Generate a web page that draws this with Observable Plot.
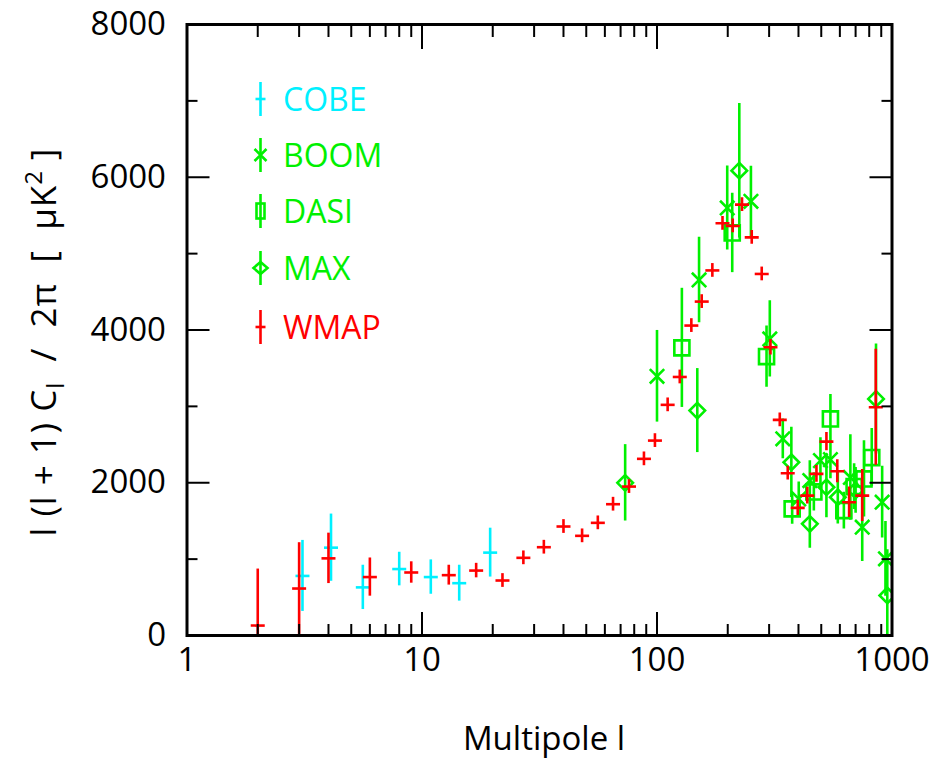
<!DOCTYPE html>
<html><head><meta charset="utf-8">
<script src="https://cdn.jsdelivr.net/npm/d3@7"></script>
<script src="https://cdn.jsdelivr.net/npm/@observablehq/plot@0.6"></script>
<style>
body{margin:0;background:#fff;}
#chart{position:relative;width:933px;height:762px;}
svg{font-family:"Open Sans",sans-serif;}
</style></head><body><div id="chart"></div>
<script>
// ---- data (multipole l, l(l+1)Cl/2pi in uK^2, error) ----
const cobeL = [3.1, 4.1, 5.6, 8.0, 10.9, 14.4, 19.5];
const cobeV = [780, 1150, 630, 870, 765, 685, 1085];
const cobeE = [465, 440, 290, 220, 225, 235, 320];

const boomL = [100, 151, 199, 251, 302, 343, 401, 447, 496, 547, 665, 747, 908, 938];
const boomV = [3394, 4655, 5598, 5685, 3883, 2575, 1789, 2029, 2290, 2303, 2070, 1418, 1745, 1004];
const boomE = [600, 560, 550, 460, 500, 260, 220, 260, 300, 250, 560, 450, 470, 490];

const dasiL = [127.6, 209, 292.5, 376, 465, 547, 624, 690, 760, 820];
const dasiV = [3766, 5271, 3652, 1658, 1880, 2836, 1636, 1950, 2050, 2330];
const dasiE = [780, 520, 400, 200, 250, 320, 240, 300, 500, 380];

const maxL = [73.2, 148.4, 224, 373, 447, 526, 588, 700, 855, 955];
const maxV = [1999, 2945, 6086, 2268, 1462, 1941, 1810, 1900, 3098, 524];
const maxE = [500, 550, 880, 460, 320, 400, 350, 300, 720, 600];

const wmapL = [2, 3, 4, 6, 9, 13, 17, 22, 27, 33, 40, 48, 56, 65, 76, 88, 98, 111, 125, 140, 155, 172, 190, 210, 230, 253, 279, 304, 333, 360, 397, 436, 477, 526, 585, 657, 747, 853];
const wmapV = [130, 615, 1010, 765, 825, 790, 850, 720, 1017, 1156, 1427, 1305, 1475, 1719, 1950, 2313, 2552, 3020, 3385, 4058, 4372, 4780, 5397, 5362, 5641, 5213, 4734, 3774, 2823, 2125, 1671, 1832, 2116, 2539, 2150, 1745, 1832, 2988];
const wmapE = [740, 600, 330, 250, 140, 130, 95, 90, 90, 90, 90, 90, 90, 90, 90, 90, 90, 90, 90, 90, 90, 90, 90, 90, 90, 90, 90, 100, 90, 90, 100, 110, 110, 120, 150, 200, 340, 760];

const xMajor = [1, 10, 100, 1000];
const xMinor = [2, 3, 4, 5, 6, 7, 8, 9, 20, 30, 40, 50, 60, 70, 80, 90, 200, 300, 400, 500, 600, 700, 800, 900];
const yMajor = [0, 2000, 4000, 6000, 8000];
const yMinor = [1000, 3000, 5000, 7000];

const legendNames = ["COBE", "BOOM", "DASI", "MAX", "WMAP"];
const CYAN = "#00f0ff", GREEN = "#00f000", RED = "#ff0000";
const legendColors = [CYAN, GREEN, GREEN, GREEN, RED];

const rows = (L, V, E) => L.map((l, i) => ({l, v: V[i], e: E[i]}));
const hbar = {draw(ctx, size) { const h = Math.sqrt(size / Math.PI); ctx.moveTo(-h, 0); ctx.lineTo(h, 0); }};

function series(L, V, E, color, symbol, r) {
  const data = rows(L, V, E);
  return [
    Plot.ruleX(data, {x: "l", y1: d => d.v - d.e, y2: d => d.v + d.e, stroke: color, strokeWidth: 2.6, clip: true}),
    Plot.dot(data, {x: "l", y: "v", symbol, r, stroke: color, fill: "none", strokeWidth: 2.6, clip: true})
  ];
}

const blank = () => "";
const chart = Plot.plot({
  width: 933, height: 762,
  marginLeft: 186.5, marginRight: 41.5, marginTop: 24, marginBottom: 127,
  x: {type: "log", domain: [1, 1000]},
  y: {domain: [0, 8000]},
  style: {fontFamily: "Open Sans, sans-serif", background: "white", color: "black"},
  marks: [
    ...series(cobeL, cobeV, cobeE, CYAN, hbar, 7),
    ...series(boomL, boomV, boomE, GREEN, "times", 6.6),
    ...series(dasiL, dasiV, dasiE, GREEN, "square2", 9.6),
    ...series(maxL, maxV, maxE, GREEN, "diamond2", 7),
    ...series(wmapL, wmapV, wmapE, RED, hbar, 7),
    // inward ticks
    Plot.axisX(xMinor, {anchor: "bottom", tickSize: -11, tickFormat: blank, strokeWidth: 2, label: null}),
    Plot.axisX(xMajor, {anchor: "bottom", tickSize: -23, tickFormat: blank, strokeWidth: 2, label: null}),
    Plot.axisX(xMinor, {anchor: "top", tickSize: -12, tickFormat: blank, strokeWidth: 2, label: null}),
    Plot.axisX(xMajor, {anchor: "top", tickSize: -24, tickFormat: blank, strokeWidth: 2, label: null}),
    Plot.axisY(yMinor, {anchor: "left", tickSize: -11, tickFormat: blank, strokeWidth: 2, label: null}),
    Plot.axisY(yMajor, {anchor: "left", tickSize: -23, tickFormat: blank, strokeWidth: 2, label: null}),
    Plot.axisY(yMinor, {anchor: "right", tickSize: -11, tickFormat: blank, strokeWidth: 2, label: null}),
    Plot.axisY(yMajor, {anchor: "right", tickSize: -23, tickFormat: blank, strokeWidth: 2, label: null}),
    // tick labels
    Plot.axisX(xMajor, {anchor: "bottom", tickSize: 0, tickPadding: 12, fontSize: 33, tickFormat: d => String(d), label: null}),
    Plot.axisY(yMajor, {anchor: "left", tickSize: 0, tickPadding: 21, fontSize: 33, tickFormat: d => String(d), label: null}),
    Plot.frame({stroke: "black", strokeWidth: 3})
  ]
});
document.getElementById("chart").appendChild(chart);

const svg = d3.select(chart);
// x label
svg.append("text").attr("x", 544).attr("y", 750).attr("text-anchor", "middle")
  .attr("font-size", 33).attr("fill", "black").text("Multipole l");
// y label with sub/superscript
const yl = svg.append("text").attr("transform", "translate(56,342) rotate(-90)")
  .attr("text-anchor", "middle").attr("font-size", 35).attr("fill", "black")
  .attr("letter-spacing", 1).style("white-space", "pre");
yl.append("tspan").text("l (l + 1) C");
yl.append("tspan").attr("dy", 8).attr("font-size", 24).text("l");
yl.append("tspan").attr("dy", -8).text("  /  2\u03c0  [  \u03bcK");
yl.append("tspan").attr("dy", -14).attr("font-size", 24).text("2");
yl.append("tspan").attr("dy", 14).text(" ]");

// legend
const legY = [99, 155, 211, 268, 327];
const lg = svg.append("g");
legendNames.forEach((name, i) => {
  const c = legendColors[i], y = legY[i], x = 260.5;
  const g = lg.append("g").attr("stroke", c).attr("stroke-width", 2.6).attr("fill", "none");
  g.append("line").attr("x1", x).attr("x2", x).attr("y1", y - 17).attr("y2", y + 17);
  if (i === 0 || i === 4) g.append("line").attr("x1", x - 5).attr("x2", x + 5).attr("y1", y).attr("y2", y);
  if (i === 1) g.append("path").attr("d", `M${x-6},${y-6}L${x+6},${y+6}M${x-6},${y+6}L${x+6},${y-6}`);
  if (i === 2) g.append("rect").attr("x", x - 4).attr("y", y - 7.5).attr("width", 8).attr("height", 15);
  if (i === 3) g.append("path").attr("d", `M${x-7},${y}L${x},${y-6}L${x+7},${y}L${x},${y+6}Z`);
  lg.append("text").attr("x", 283).attr("y", y).attr("dy", "0.36em").attr("text-anchor", "start")
    .attr("font-size", 32).attr("fill", c).text(name);
});
</script></body></html>
